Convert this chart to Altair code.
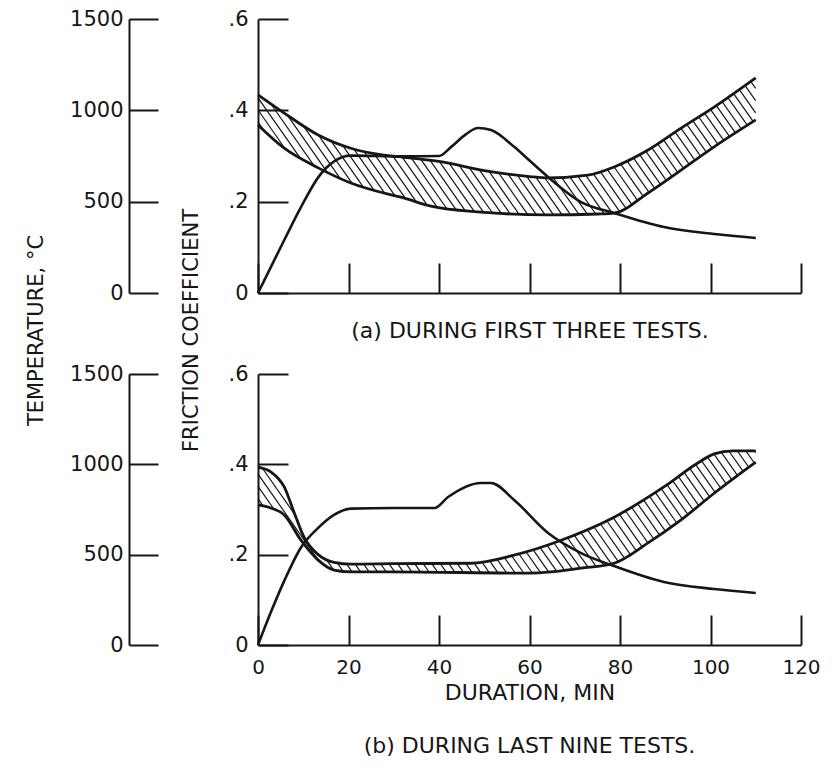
import altair as alt
import pandas as pd
import numpy as np

FONT = "DejaVu Sans"
INK = "#161616"

# ---------------- data ----------------
# Panel (a): during first three tests
a_upper_x = [0, 5.8, 13.3, 20.5, 27.8, 31.6, 40, 50, 60, 64.1, 72.9, 78.7, 86.2, 93.5, 100.8, 110]
a_upper_y = [0.434, 0.394, 0.346, 0.317, 0.302, 0.298, 0.288, 0.268, 0.255, 0.252, 0.258, 0.276, 0.313, 0.361, 0.407, 0.471]
a_lower_x = [0, 5.8, 13.3, 20.5, 27.8, 31.6, 38.2, 49.3, 64.1, 75.1, 78.7, 86.2, 93.5, 100.8, 110]
a_lower_y = [0.368, 0.317, 0.274, 0.241, 0.219, 0.210, 0.190, 0.177, 0.171, 0.173, 0.175, 0.219, 0.269, 0.320, 0.379]
a_temp_x = [0, 5.8, 9.5, 13.5, 16.9, 20.5, 31.6, 40, 42.7, 46, 48.6, 51.5, 56.6, 60, 64.1, 71.4, 78.7, 89.7, 100.8, 110]
a_temp_c = [0, 290, 470, 640, 722, 752, 748, 750, 800, 870, 903, 892, 800, 725, 635, 498, 438, 361, 323, 301]

# Panel (b): during last nine tests
b_upper_x = [0, 2.9, 5.8, 8, 10.2, 13.3, 16.8, 20.5, 29.4, 47, 56.6, 67, 78.7, 89.7, 97.2, 100.8, 105, 110]
b_upper_y = [0.394, 0.383, 0.350, 0.293, 0.238, 0.200, 0.183, 0.179, 0.180, 0.181, 0.199, 0.232, 0.283, 0.350, 0.403, 0.423, 0.430, 0.430]
b_lower_x = [0, 2.9, 5.8, 9.5, 13.3, 16.8, 20.5, 29.4, 60.3, 71.4, 78.7, 86.2, 93.5, 100.8, 110]
b_lower_y = [0.310, 0.303, 0.288, 0.232, 0.188, 0.166, 0.162, 0.162, 0.159, 0.170, 0.181, 0.226, 0.277, 0.336, 0.405]
b_temp_x = [0, 2.9, 5.8, 9.5, 13.3, 16.8, 20.5, 30, 39, 42, 49.3, 51.5, 56.6, 64.1, 71.4, 78.7, 89.7, 100.8, 110]
b_temp_c = [0, 185, 355, 540, 648, 720, 755, 758, 758, 819, 897, 897, 803, 620, 509, 437, 349, 310, 288]

x_ticks = [0, 20, 40, 60, 80, 100, 120]
f_ticks = [0, 0.2, 0.4, 0.6]
t_ticks = [0, 500, 1000, 1500]

W = 543
H1 = 274
H2 = 271


# ------------- helpers: monotone curve (same as Vega "monotone") -------------
def mono(xs, ys):
    xs = np.asarray(xs, float)
    ys = np.asarray(ys, float)
    n = len(xs)
    h = np.diff(xs)
    s = np.diff(ys) / h
    t = np.zeros(n)
    for i in range(1, n - 1):
        h0, h1, s0, s1 = h[i - 1], h[i], s[i - 1], s[i]
        p = (s0 * h1 + s1 * h0) / (h0 + h1)
        t[i] = (np.sign(s0) + np.sign(s1)) * min(abs(s0), abs(s1), 0.5 * abs(p))
    t[0] = (3 * s[0] - t[1]) / 2
    t[-1] = (3 * s[-1] - t[-2]) / 2

    def f(xq):
        xq = np.asarray(xq, float)
        i = np.clip(np.searchsorted(xs, xq, side="right") - 1, 0, n - 2)
        hh = h[i]
        u = (xq - xs[i]) / hh
        h00 = 2 * u**3 - 3 * u**2 + 1
        h10 = u**3 - 2 * u**2 + u
        h01 = -2 * u**3 + 3 * u**2
        h11 = u**3 - u**2
        return h00 * ys[i] + h10 * hh * t[i] + h01 * ys[i + 1] + h11 * hh * t[i + 1]

    return f


def hatch(ux, uy, lx, ly, H, spacing=7.0, angle=55.0):
    fu = mono(ux, uy)
    fl = mono(lx, ly)
    x0 = max(ux[0], lx[0])
    x1 = min(ux[-1], lx[-1])
    sx = W / 120.0
    sy = H / 0.6
    k = 1 / np.tan(np.radians(angle))
    step = spacing / np.sin(np.radians(angle))
    ypx = np.arange(0, H + 0.01, 0.2)
    rows = []
    c = x0 * sx - k * H
    while c <= x1 * sx:
        xd = (c + k * ypx) / sx
        ok = (xd >= x0) & (xd <= x1)
        xc = np.clip(xd, x0, x1)
        yd = (H - ypx) / sy
        inside = ok & (yd <= fu(xc)) & (yd >= fl(xc))
        idx = np.flatnonzero(inside)
        if idx.size:
            splits = np.flatnonzero(np.diff(idx) > 1)
            starts = np.r_[idx[0], idx[splits + 1]]
            ends = np.r_[idx[splits], idx[-1]]
            for a, b in zip(starts, ends):
                if b > a:
                    rows.append(dict(x=xd[a], y=yd[a], x2=xd[b], y2=yd[b]))
        c += step
    return pd.DataFrame(rows)


def bands_df(ux, uy, lx, ly):
    return pd.concat([
        pd.DataFrame({"x": ux, "y": uy, "curve": "upper"}),
        pd.DataFrame({"x": lx, "y": ly, "curve": "lower"}),
    ])


# ------------- panel builder -------------
def panel(ux, uy, lx, ly, tx, tc, H, bottom):
    xscale = alt.Scale(domain=[0, 120], nice=False, zero=False)
    fscale = alt.Scale(domain=[0, 0.6], nice=False)
    tscale = alt.Scale(domain=[0, 1500], nice=False)

    common = dict(domainColor=INK, tickColor=INK, domainWidth=2, tickWidth=2,
                  grid=False, labelColor=INK, titleColor=INK,
                  labelFont=FONT, titleFont=FONT, titleFontWeight="normal")

    if bottom:
        xaxis = alt.Axis(orient="top", offset=-H, values=x_ticks, tickSize=30,
                         labels=True, labelFontSize=20, labelBaseline="top",
                         labelPadding=-42, labelFlush=False, labelOverlap=False,
                         title="DURATION, MIN", titleFontSize=22, titleY=47,
                         titleBaseline="middle", **common)
    else:
        xaxis = alt.Axis(orient="top", offset=-H, values=x_ticks, tickSize=30,
                         labels=False,
                         title="(a) DURING FIRST THREE TESTS.", titleFontSize=22,
                         titleY=37, titleBaseline="middle", **common)

    fkw = dict(orient="right", offset=-W, values=f_ticks, tickSize=30,
               labelAlign="right", labelPadding=-40, labelBaseline="middle",
               labelFontSize=21, labelFlush=False, labelOverlap=False,
               labelExpr="datum.value == 0 ? '0' : '.' + round(datum.value * 10)",
               **common)
    tkw = dict(orient="right", offset=-(W + 129), values=t_ticks, tickSize=29,
               labelAlign="right", labelPadding=-35, labelBaseline="middle",
               labelFontSize=21, labelFlush=False, labelOverlap=False, format="d",
               **common)
    if bottom:
        faxis = alt.Axis(title=None, **fkw)
        taxis = alt.Axis(title=None, **tkw)
    else:
        faxis = alt.Axis(title="FRICTION COEFFICIENT", titleAngle=270, titleX=-67,
                         titleY=311, titleAlign="center", titleBaseline="middle",
                         titleFontSize=21, **fkw)
        taxis = alt.Axis(title="TEMPERATURE, °C", titleAngle=270, titleX=-93,
                         titleY=311, titleAlign="center", titleBaseline="middle",
                         titleFontSize=21, **tkw)

    hdf = hatch(ux, uy, lx, ly, H)
    hatch_layer = alt.Chart(hdf).mark_rule(color=INK, strokeWidth=1.2).encode(
        x=alt.X("x:Q", scale=xscale, axis=xaxis),
        y=alt.Y("y:Q", scale=fscale, axis=faxis),
        x2="x2:Q",
        y2="y2:Q",
    )
    band_layer = alt.Chart(bands_df(ux, uy, lx, ly)).mark_line(
        color=INK, strokeWidth=2.8, interpolate="monotone"
    ).encode(
        x=alt.X("x:Q", scale=xscale, axis=xaxis),
        y=alt.Y("y:Q", scale=fscale, axis=faxis),
        detail="curve:N",
    )
    temp_layer = alt.Chart(pd.DataFrame({"x": tx, "temp": tc})).mark_line(
        color=INK, strokeWidth=2.6, interpolate="monotone"
    ).encode(
        x=alt.X("x:Q", scale=xscale, axis=xaxis),
        y=alt.Y("temp:Q", scale=tscale, axis=taxis),
    )
    friction = alt.layer(hatch_layer, band_layer)
    ch = alt.layer(friction, temp_layer).resolve_scale(y="independent").properties(
        width=W, height=H
    )
    if bottom:
        ch = ch.properties(title=alt.TitleParams(
            "(b) DURING LAST NINE TESTS.", orient="bottom", offset=33, frame="group",
            anchor="middle", font=FONT, fontSize=22, fontWeight="normal", color=INK))
    return ch


top = panel(a_upper_x, a_upper_y, a_lower_x, a_lower_y, a_temp_x, a_temp_c, H1, False)
bot = panel(b_upper_x, b_upper_y, b_lower_x, b_lower_y, b_temp_x, b_temp_c, H2, True)

chart = alt.vconcat(top, bot, spacing=81, bounds="flush").properties(
    padding={"left": 17, "top": 0, "right": 0, "bottom": 0},
    background="white",
).configure_view(stroke=None)

chart.save("out.html", embed_options={"renderer": "svg", "actions": False})
